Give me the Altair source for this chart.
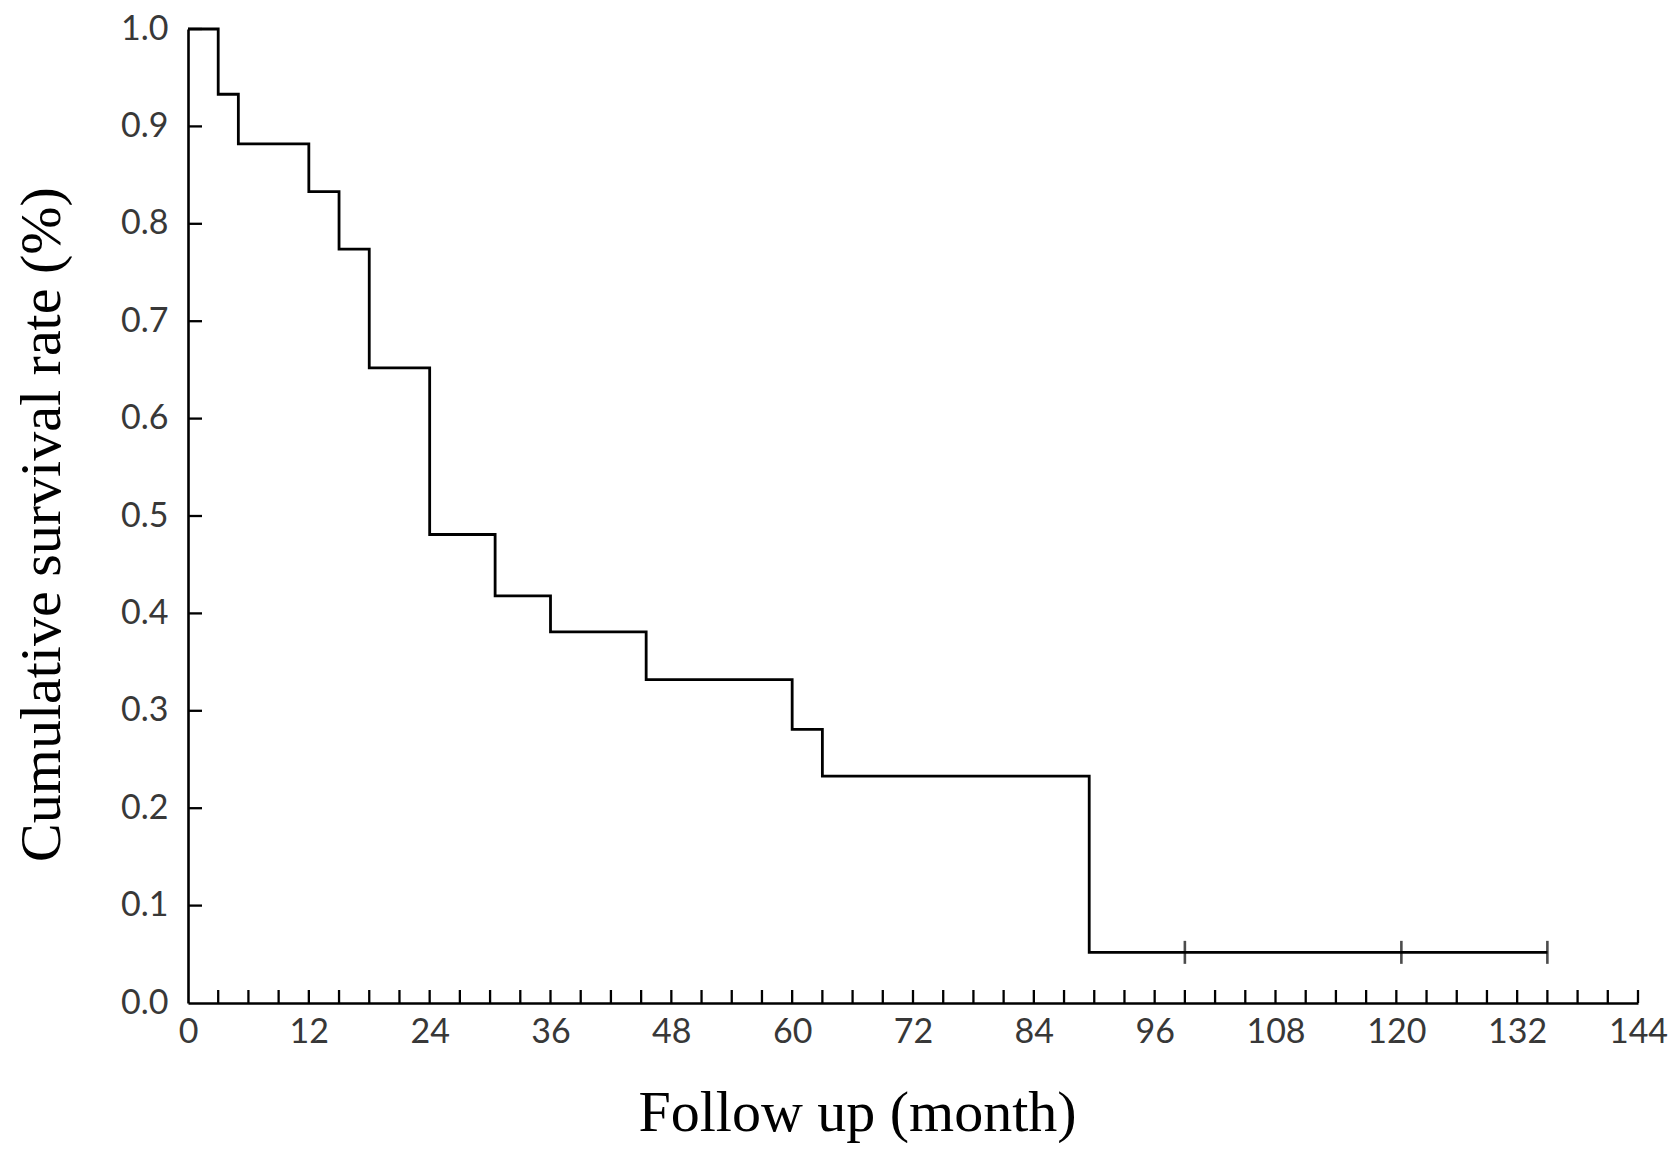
import altair as alt
import pandas as pd

# Kaplan-Meier step curve
months = [0, 3, 5, 12, 15, 18, 24, 30.5, 36, 45.5, 60, 63, 89.5, 135]
survival = [1.0, 0.933, 0.882, 0.833, 0.774, 0.652, 0.481, 0.418, 0.381, 0.332, 0.281, 0.233, 0.052, 0.052]

# censored observations
censor_months = [99, 120.5, 135]
censor_surv = [0.052, 0.052, 0.052]

x_tick_values = list(range(3, 145, 3))
x_label_values = list(range(0, 145, 12))
y_tick_values = [round(0.1 * i, 1) for i in range(1, 11)]
y_label_values = [round(0.1 * i, 1) for i in range(0, 11)]

W, H = 1450, 974

curve = pd.DataFrame({"month": months, "surv": survival})
cens = pd.DataFrame({"month": censor_months, "surv": censor_surv})
xt = pd.DataFrame({"month": x_tick_values})
yt = pd.DataFrame({"surv": y_tick_values})

xscale = alt.Scale(domain=[0, 144], nice=False, zero=False)
yscale = alt.Scale(domain=[0, 1], nice=False)

label_font = "Lato"
title_font = "Liberation Serif"

line = alt.Chart(curve).mark_line(
    interpolate="step-after", color="black", strokeWidth=2.8
).encode(
    x=alt.X(
        "month:Q",
        scale=xscale,
        axis=alt.Axis(
            values=x_label_values,
            title="Follow up (month)",
            tickSize=0,
            grid=False,
            domainColor="black",
            domainWidth=2.6,
            labelFont=label_font,
            labelFontSize=34,
            labelColor="#383838",
            labelPadding=12,
            labelFlush=False,
            labelOverlap=False,
            titleFont=title_font,
            titleFontSize=58,
            titleFontWeight="normal",
            titleColor="black",
            titleX=669,
            titleY=127,
            titleBaseline="alphabetic",
        ),
    ),
    y=alt.Y(
        "surv:Q",
        scale=yscale,
        axis=alt.Axis(
            values=y_label_values,
            format=".1f",
            title="Cumulative survival rate (%)",
            tickSize=0,
            grid=False,
            domainColor="black",
            domainWidth=2.6,
            labelFont=label_font,
            labelFontSize=34,
            labelColor="#383838",
            labelPadding=20,
            labelFlush=False,
            labelOverlap=False,
            titleFont=title_font,
            titleFontSize=58,
            titleFontWeight="normal",
            titleColor="black",
            titleX=-146,
            titleY=495,
            titleBaseline="middle",
            titleAngle=-90,
        ),
    ),
)

censor = alt.Chart(cens).mark_tick(
    orient="vertical", color="black", thickness=2.6, size=23
).encode(x=alt.X("month:Q", scale=xscale), y=alt.Y("surv:Q", scale=yscale))

xticks = alt.Chart(xt).mark_rule(color="black", strokeWidth=2.3).encode(
    x=alt.X("month:Q", scale=xscale),
    y=alt.value(H),
    y2=alt.value(H - 13),
)

yticks = alt.Chart(yt).mark_rule(color="black", strokeWidth=2.3).encode(
    y=alt.Y("surv:Q", scale=yscale),
    x=alt.value(0),
    x2=alt.value(14),
)

chart = (
    alt.layer(line, censor, xticks, yticks)
    .properties(
        width=W,
        height=H,
        autosize=alt.AutoSizeParams(type="none"),
        padding={"left": 180, "top": 21, "right": 30, "bottom": 140},
        view=alt.ViewBackground(stroke="transparent"),
    )
    .configure_view(stroke="transparent")
    .configure(background="white")
)

chart.save("out.html", embed_options={"renderer": "svg", "actions": False})
